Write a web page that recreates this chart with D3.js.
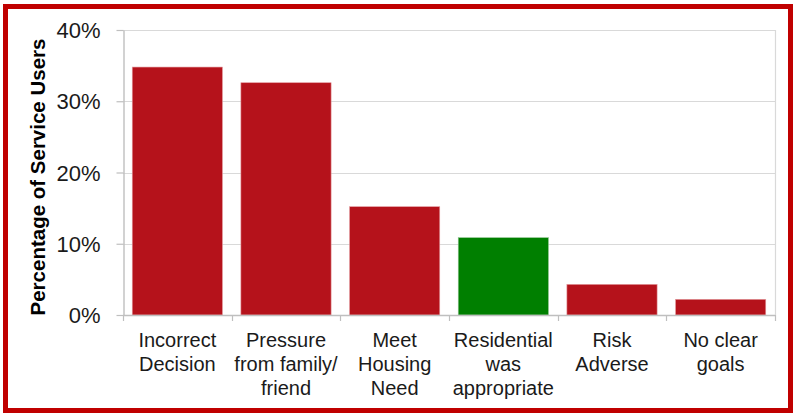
<!DOCTYPE html>
<html>
<head>
<meta charset="utf-8">
<script src="https://cdn.jsdelivr.net/npm/d3@7.9.0/dist/d3.min.js"></script>
<style>
  html, body { margin: 0; padding: 0; background: #fff; }
  svg { display: block; font-family: Arial, "Liberation Sans", sans-serif; }
</style>
</head>
<body>
<svg id="chart" width="794" height="413"></svg>
<script>
// data
const categories = [
  ['Incorrect', 'Decision'],
  ['Pressure', 'from family/', 'friend'],
  ['Meet', 'Housing', 'Need'],
  ['Residential', 'was', 'appropriate'],
  ['Risk', 'Adverse'],
  ['No clear', 'goals']
];
const values = [34.8, 32.6, 15.2, 10.85, 4.3, 2.2];
const highlight = [false, false, false, true, false, false];
const yTicks = [0, 10, 20, 30, 40];

const svg = d3.select('#chart');
const W = 794, H = 413;
const plot = { left: 123, right: 775, top: 30, bottom: 315 };

// outer red frame
svg.append('rect')
  .attr('x', 5.5).attr('y', 6.5)
  .attr('width', W - 9).attr('height', H - 9)
  .attr('fill', 'none')
  .attr('stroke', '#c00000')
  .attr('stroke-width', 5);

const x = d3.scaleBand()
  .domain(d3.range(categories.length))
  .range([plot.left, plot.right])
  .paddingInner(0.17)
  .paddingOuter(0.085);

const xEdges = d3.scaleLinear()
  .domain([0, categories.length])
  .range([plot.left, plot.right]);

const y = d3.scaleLinear().domain([0, 40]).range([plot.bottom, plot.top]);

// gridlines
svg.append('g')
  .selectAll('line')
  .data(yTicks.filter((d) => d > 0))
  .join('line')
  .attr('x1', plot.left).attr('x2', plot.right)
  .attr('y1', (d) => Math.round(y(d)) + 0.5)
  .attr('y2', (d) => Math.round(y(d)) + 0.5)
  .attr('stroke', '#d9d9d9')
  .attr('stroke-width', 1.2);

// right edge of plot area
svg.append('line')
  .attr('x1', plot.right + 0.5).attr('x2', plot.right + 0.5)
  .attr('y1', plot.top).attr('y2', plot.bottom)
  .attr('stroke', '#d9d9d9')
  .attr('stroke-width', 1.2);

// bars
svg.append('g')
  .selectAll('rect')
  .data(values)
  .join('rect')
  .attr('x', (d, i) => x(i))
  .attr('width', x.bandwidth())
  .attr('y', (d) => y(d))
  .attr('height', (d) => y(0) - y(d))
  .attr('fill', (d, i) => (highlight[i] ? '#007f00' : '#b5121b'))
  .attr('stroke', (d, i) => (highlight[i] ? '#8fc48f' : '#e39a9e'))
  .attr('stroke-width', 0.6);

// y axis
const yAxis = svg.append('g')
  .attr('transform', `translate(${plot.left + 0.5},0)`)
  .call(d3.axisLeft(y).tickValues(yTicks).tickFormat((d) => d + '%').tickSize(7).tickSizeOuter(0));
yAxis.select('.domain').attr('stroke', '#bfbfbf').attr('stroke-width', 1.4);
yAxis.selectAll('.tick line').attr('stroke', '#bfbfbf').attr('stroke-width', 1.2);
yAxis.selectAll('.tick text')
  .attr('x', -23)
  .attr('fill', '#1a1a1a')
  .style('font-size', '22px')
  .attr('dy', '0.35em');

// x axis baseline and boundary ticks
svg.append('line')
  .attr('x1', plot.left).attr('x2', plot.right)
  .attr('y1', plot.bottom + 0.5).attr('y2', plot.bottom + 0.5)
  .attr('stroke', '#bfbfbf').attr('stroke-width', 1.4);

svg.append('g')
  .selectAll('line')
  .data(d3.range(categories.length + 1))
  .join('line')
  .attr('x1', (d) => Math.round(xEdges(d)) + 0.5)
  .attr('x2', (d) => Math.round(xEdges(d)) + 0.5)
  .attr('y1', plot.bottom)
  .attr('y2', plot.bottom + 6)
  .attr('stroke', '#bfbfbf').attr('stroke-width', 1.2);

// category labels
const labels = svg.append('g')
  .selectAll('text')
  .data(categories)
  .join('text')
  .attr('x', (d, i) => x(i) + x.bandwidth() / 2)
  .attr('y', 347)
  .attr('text-anchor', 'middle')
  .attr('fill', '#1a1a1a')
  .style('font-size', '20px');

labels.selectAll('tspan')
  .data((d) => d)
  .join('tspan')
  .attr('x', function () { return d3.select(this.parentNode).attr('x'); })
  .attr('dy', (d, i) => (i === 0 ? 0 : 24))
  .text((d) => d);

// y axis title
svg.append('text')
  .attr('transform', `translate(45, ${(37 + 317) / 2}) rotate(-90)`)
  .attr('text-anchor', 'middle')
  .attr('fill', '#000')
  .style('font-size', '20.5px')
  .style('font-weight', 'bold')
  .text('Percentage of Service Users');
</script>
</body>
</html>
